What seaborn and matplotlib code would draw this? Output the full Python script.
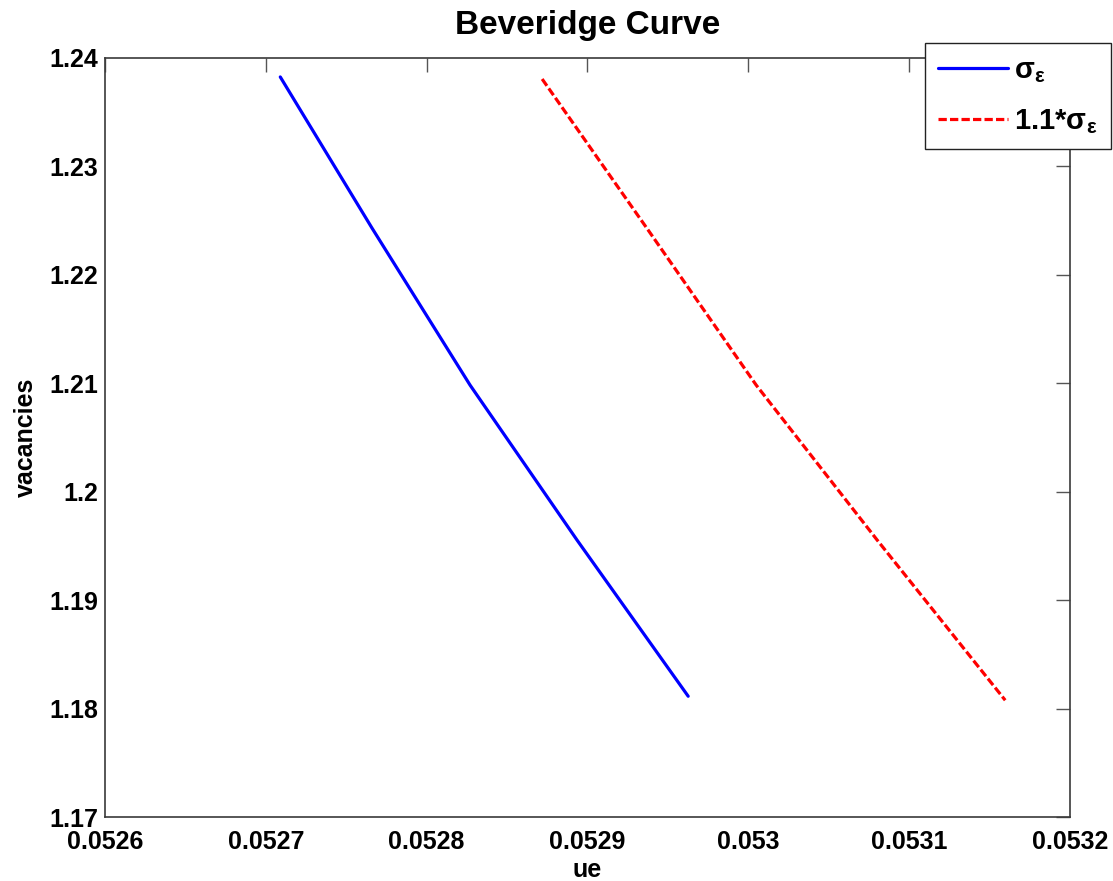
import matplotlib
matplotlib.use("Agg")
import matplotlib.pyplot as plt
import seaborn as sns
import pandas as pd

# Beveridge curve: baseline sigma vs 1.1*sigma
ue_base = [0.052709, 0.052766, 0.052827, 0.0528935, 0.0529626]
vac_base = [1.23825, 1.22432, 1.20983, 1.19554, 1.18114]
ue_high = [0.0528718, 0.0529377, 0.0530049, 0.0530801, 0.0531597]
vac_high = [1.23806, 1.22413, 1.20983, 1.19554, 1.18077]

x_ticks = [0.0526, 0.0527, 0.0528, 0.0529, 0.053, 0.0531, 0.0532]
x_labels = ['0.0526', '0.0527', '0.0528', '0.0529', '0.053', '0.0531', '0.0532']
y_ticks = [1.17, 1.18, 1.19, 1.20, 1.21, 1.22, 1.23, 1.24]
y_labels = ['1.17', '1.18', '1.19', '1.2', '1.21', '1.22', '1.23', '1.24']

lbl_base = r'$\mathregular{\sigma_{\varepsilon}}$'
lbl_high = r'1.1*$\mathregular{\sigma_{\varepsilon}}$'

df_base = pd.DataFrame({'ue': ue_base, 'vacancies': vac_base})
df_high = pd.DataFrame({'ue': ue_high, 'vacancies': vac_high})

sns.set_style("white")
plt.rcParams['font.family'] = ['Liberation Sans', 'DejaVu Sans']
plt.rcParams['mathtext.fontset'] = 'custom'
plt.rcParams['mathtext.rm'] = 'Liberation Sans'
plt.rcParams['mathtext.it'] = 'Liberation Sans'
plt.rcParams['text.color'] = 'black'
plt.rcParams['axes.labelcolor'] = 'black'
plt.rcParams['xtick.labelcolor'] = 'black'
plt.rcParams['ytick.labelcolor'] = 'black'

fig = plt.figure(figsize=(11.13, 8.81), dpi=100)
ax = fig.add_axes([0.0943, 0.0726, 0.8671, 0.8616])

sns.lineplot(data=df_base, x='ue', y='vacancies', ax=ax, sort=False, estimator=None,
             color='#0000ff', linewidth=2.3, label=lbl_base)
sns.lineplot(data=df_high, x='ue', y='vacancies', ax=ax, sort=False, estimator=None,
             color='#ff0000', linewidth=2.3, label=lbl_high, dashes=False)
ax.lines[1].set_dashes((2.6, 1.0))

ax.set_xlim(0.0526, 0.0532)
ax.set_ylim(1.17, 1.24)
ax.set_xticks(x_ticks)
ax.set_xticklabels(x_labels)
ax.set_yticks(y_ticks)
ax.set_yticklabels(y_labels)

for s in ax.spines.values():
    s.set_visible(True)
    s.set_color('#3a3a3a')
    s.set_linewidth(1.2)

ax.tick_params(axis='both', direction='in', length=10, width=1, color='#555555',
               top=True, right=True, labelsize=18, labelcolor='black')
ax.tick_params(axis='x', pad=9)
ax.tick_params(axis='y', pad=5)
for t in ax.get_xticklabels() + ax.get_yticklabels():
    t.set_fontweight('bold')

ax.set_title('Beveridge Curve', fontsize=24, fontweight='bold', pad=17, color='black')
ax.set_xlabel('ue', fontsize=18, fontweight='bold', labelpad=3)
ax.set_ylabel('vacancies', fontsize=18, fontweight='bold', labelpad=8)

leg = ax.legend(loc='upper right', bbox_to_anchor=(0.998, 0.951), bbox_transform=fig.transFigure,
                borderaxespad=0, fancybox=False, framealpha=1, edgecolor='#222222',
                prop={'size': 21, 'weight': 'bold'}, handlelength=2.4, handletextpad=0.2,
                labelspacing=0.75, borderpad=0.45)
leg.get_frame().set_linewidth(1.0)

fig.savefig('out.png', dpi=100)
